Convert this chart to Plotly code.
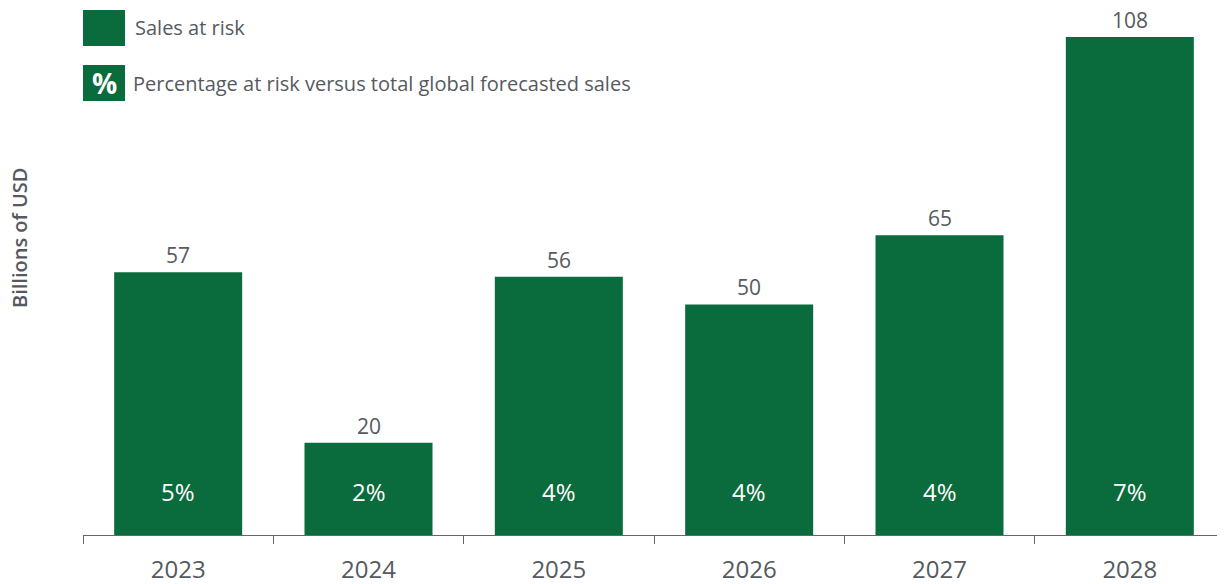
import plotly.graph_objects as go

years = ["2023", "2024", "2025", "2026", "2027", "2028"]
sales_at_risk = [57, 20, 56, 50, 65, 108]
pct_at_risk = ["5%", "2%", "4%", "4%", "4%", "7%"]

GREEN = "#0a6b3c"
GRAY = "#555a60"
FONT = "Open Sans"

OFF = 8  # page body margin in the browser
W, H = 1225 - OFF, 584 - OFF
L, R, T, B = 83 - OFF, 0, 10 - OFF, 49
PW, PH = W - L - R, H - T - B


def px_x(px):
    return (px - OFF - L) / PW


def px_y(py):
    return (H - B - (py - OFF)) / PH


fig = go.Figure()
fig.add_trace(go.Bar(
    x=years, y=sales_at_risk, marker=dict(color=GREEN, line=dict(width=0)),
    showlegend=False, hoverinfo="x+y",
))

annotations = []
for i, (v, p) in enumerate(zip(sales_at_risk, pct_at_risk)):
    annotations.append(dict(x=i, y=v, xref="x", yref="y", text=str(v), showarrow=False,
                            yanchor="middle", yshift=17, height=22,
                            font=dict(size=21, color=GRAY, family=FONT)))
    annotations.append(dict(x=i, y=0, xref="x", yref="y", text=p, showarrow=False,
                            yanchor="middle", yshift=44, font=dict(size=24, color="white", family=FONT)))

# y-axis title
annotations.append(dict(x=px_x(19), y=px_y(238), xref="paper", yref="paper", text="Billions of USD",
                        textangle=-90, showarrow=False, xanchor="center", yanchor="middle", height=20,
                        font=dict(size=20, color=GRAY, family=FONT, weight=600)))

# legend
shapes = [
    dict(type="rect", xref="paper", yref="paper", x0=px_x(83), x1=px_x(125), y0=px_y(46), y1=px_y(10),
         fillcolor=GREEN, line=dict(width=0)),
    dict(type="rect", xref="paper", yref="paper", x0=px_x(83), x1=px_x(125), y0=px_y(101), y1=px_y(65),
         fillcolor=GREEN, line=dict(width=0)),
]
annotations.append(dict(x=px_x(104), y=px_y(83), xref="paper", yref="paper", text="<b>%</b>", showarrow=False,
                        xanchor="center", yanchor="middle", font=dict(size=28, color="white", family=FONT)))
annotations.append(dict(x=px_x(133), y=px_y(28), xref="paper", yref="paper", text="Sales at risk", showarrow=False,
                        xanchor="left", yanchor="middle", font=dict(size=20, color=GRAY, family=FONT)))
annotations.append(dict(x=px_x(131), y=px_y(83), xref="paper", yref="paper",
                        text="Percentage at risk versus total global forecasted sales", showarrow=False,
                        xanchor="left", yanchor="middle", font=dict(size=20, color=GRAY, family=FONT)))

fig.update_layout(
    width=W, height=H,
    margin=dict(l=L, r=R, t=T, b=B),
    paper_bgcolor="white", plot_bgcolor="white",
    bargap=0.3275,
    font=dict(family=FONT, color=GRAY),
    xaxis=dict(type="category", showline=True, linecolor="#666666", linewidth=1,
               ticks="outside", tickson="boundaries", ticklen=8, tickcolor="#666666",
               ticklabelstandoff=13,
               tickfont=dict(size=24, color=GRAY, family=FONT), showgrid=False),
    yaxis=dict(range=[0, PH / (498 / 108)], showticklabels=False, showgrid=False,
               zeroline=False, showline=False, ticks=""),
    shapes=shapes,
    annotations=annotations,
)

fig.write_html("out.html")
